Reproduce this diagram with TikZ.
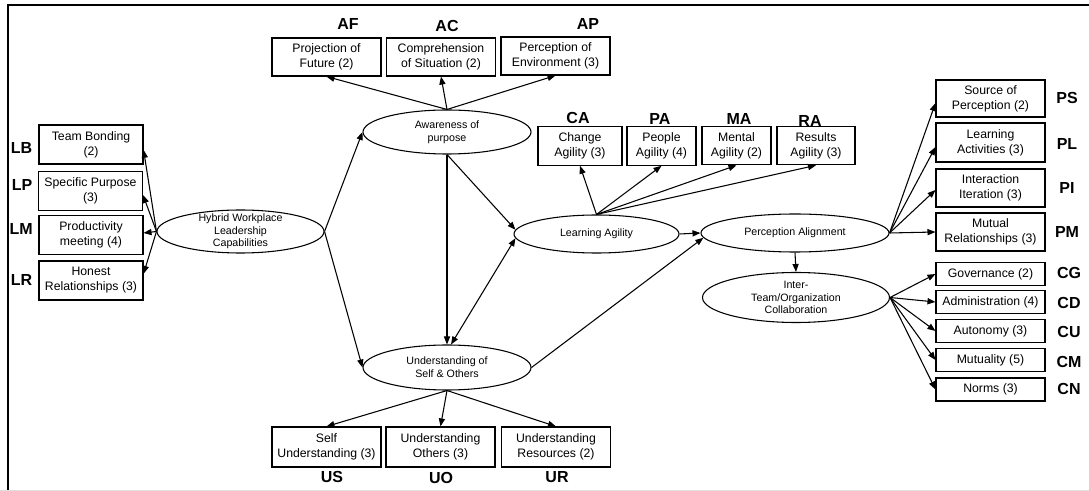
\documentclass[tikz,border=0pt]{standalone}
\usepackage{fontspec}
\setmainfont{Liberation Sans}
\usetikzlibrary{arrows.meta}
\usetikzlibrary{shapes}

\begin{document}
\begin{tikzpicture}[x=0.75pt,y=-0.75pt,
    >={Triangle[length=6pt,width=4.6pt]},
    box/.style={draw,rectangle,line width=0.8pt,align=center,inner sep=0pt,
      font=\fontsize{9.2}{11.2}\selectfont},
    lbox/.style={box,minimum width=78pt,minimum height=29.25pt},
    wbox/.style={box,minimum width=81.75pt,minimum height=28.5pt},
    abox/.style={box,minimum height=28.9pt},
    tbox/.style={box,minimum width=81.75pt,minimum height=17.25pt},
    ubox/.style={box,minimum width=81.75pt,minimum height=30pt},
    lat/.style={draw,ellipse,line width=0.8pt,inner sep=0pt},
    etext/.style={align=center,font=\fontsize{8}{9.5}\selectfont},
    code/.style={font=\bfseries\fontsize{12}{14}\selectfont},
    link/.style={->,line width=0.8pt}]
  \useasboundingbox (0,0) rectangle (1089,491);
  \draw[line width=2.2pt] (8,491) -- (8,5) -- (1089,5);
  \draw[black!12,line width=0.75pt] (0,490) -- (1089,490);

  % latent constructs
  \node[lat,minimum width=125.25pt,minimum height=32.25pt,
    label={[etext]center:{Hybrid Workplace\\Leadership\\Capabilities}}] (hyb) at (240.5,231.5) {};
  \node[lat,minimum width=126pt,minimum height=33pt,
    label={[etext]center:{Awareness of\\purpose}}] (aw) at (447,132) {};
  \node[lat,minimum width=123.75pt,minimum height=28.5pt,
    label={[etext]center:{Learning Agility}}] (la) at (596.5,234) {};
  \node[lat,minimum width=126pt,minimum height=33.75pt,
    label={[etext]center:{Understanding of\\Self \& Others}}] (us) at (447,367.5) {};
  \node[lat,minimum width=141pt,minimum height=28.5pt,
    label={[etext]center:{Perception Alignment}}] (pa) at (795,233) {};
  \node[lat,minimum width=140.25pt,minimum height=37.5pt,
    label={[etext]center:{Inter-\\Team/Organization\\Collaboration}}] (ic) at (796,297.5) {};

  % leadership indicators
  \node[lbox] (lb) at (91,144.5) {Team Bonding\\(2)};
  \node[lbox] (lp) at (90.5,191) {Specific Purpose\\(3)};
  \node[lbox] (lm) at (91,235) {Productivity\\meeting (4)};
  \node[lbox] (lr) at (91,280.5) {Honest\\Relationships (3)};
  \node[code,anchor=east] (lb-c) at (37,148) {LB};
  \node[code,anchor=east] (lp-c) at (37,185) {LP};
  \node[code,anchor=east] (lm-c) at (37.5,229) {LM};
  \node[code,anchor=east] (lr-c) at (37,280) {LR};

  % awareness indicators
  \node[wbox] (af) at (326.5,57) {Projection of\\Future (2)};
  \node[wbox] (ac) at (441,57) {Comprehension\\of Situation (2)};
  \node[wbox] (ap) at (555.5,56) {Perception of\\Environment (3)};
  \node[code] (af-c) at (348,24) {AF};
  \node[code] (ac-c) at (447,26) {AC};
  \node[code] (ap-c) at (588,24) {AP};

  % agility indicators
  \node[abox,minimum width=63pt] (ca) at (580,146) {Change\\Agility (3)};
  \node[abox,minimum width=51.75pt] (pe) at (661.5,146) {People\\Agility (4)};
  \node[abox,minimum width=51.75pt] (ma) at (736.5,145.5) {Mental\\Agility (2)};
  \node[abox,minimum width=58.5pt] (ra) at (816,145.5) {Results\\Agility (3)};
  \node[code] (ca-c) at (578,118) {CA};
  \node[code] (pe-c) at (660,119) {PA};
  \node[code] (ma-c) at (739,119) {MA};
  \node[code] (ra-c) at (810,121) {RA};

  % perception indicators
  \node[wbox,minimum height=27.75pt] (ps) at (990.5,98.5) {Source of\\Perception (2)};
  \node[wbox,minimum height=29.25pt] (pl) at (990.5,142.5) {Learning\\Activities (3)};
  \node[wbox] (pi) at (990.5,188) {Interaction\\Iteration (3)};
  \node[wbox] (pm) at (990.5,232) {Mutual\\Relationships (3)};
  \node[code] (ps-c) at (1067,98) {PS};
  \node[code] (pl-c) at (1067,144) {PL};
  \node[code] (pi-c) at (1067,188) {PI};
  \node[code] (pm-c) at (1067,232) {PM};

  % collaboration indicators
  \node[tbox] (cg) at (990.5,274) {Governance (2)};
  \node[tbox] (cd) at (990.5,302) {Administration (4)};
  \node[tbox] (cu) at (990.5,331) {Autonomy (3)};
  \node[tbox] (cm) at (990.5,360) {Mutuality (5)};
  \node[tbox] (cn) at (990.5,389.5) {Norms (3)};
  \node[code] (cg-c) at (1069,273) {CG};
  \node[code] (cd-c) at (1069,303) {CD};
  \node[code] (cu-c) at (1069,332) {CU};
  \node[code] (cm-c) at (1069,362) {CM};
  \node[code] (cn-c) at (1069,389) {CN};

  % understanding indicators
  \node[ubox] (su) at (326.5,447) {Self\\Understanding (3)};
  \node[ubox] (uo) at (440.5,447) {Understanding\\Others (3)};
  \node[ubox] (ur) at (556,447) {Understanding\\Resources (2)};
  \node[code] (su-c) at (332,477) {US};
  \node[code] (uo-c) at (441,478) {UO};
  \node[code] (ur-c) at (557,477) {UR};

  % structural paths
  \draw[link] (hyb.east) -- (aw.west);
  \draw[link] (hyb.east) -- (us.west);
  \draw[link] (aw.south) -- (us.north);
  \draw[link] (aw.south) -- (la.177);
  \draw[link,<->] (us.80) -- (la.183);
  \draw[link] (la.east) -- (pa.west);
  \draw[link] (us.east) -- (pa.183);
  \draw[link] (pa.south) -- (ic.north);

  % measurement paths
  \draw[link] (hyb.west) -- ([yshift=-4pt]lb.east);
  \draw[link] (hyb.west) -- ([yshift=-3pt]lp.east);
  \draw[link] (hyb.west) -- ([yshift=1.5pt]lm.east);
  \draw[link] (hyb.west) -- ([yshift=5pt]lr.east);
  \draw[link] (aw.north) -- (af.south);
  \draw[link] (aw.north) -- (ac.south);
  \draw[link] (aw.north) -- (ap.south);
  \draw[link] (la.north) -- (ca.south);
  \draw[link] (la.north) -- (pe.south);
  \draw[link] (la.north) -- (ma.south);
  \draw[link] (la.north) -- (ra.south);
  \draw[link] (pa.east) -- ([yshift=-3.4pt]ps.west);
  \draw[link] (pa.east) -- ([yshift=-3.4pt]pl.west);
  \draw[link] (pa.east) -- ([yshift=-1.5pt]pi.west);
  \draw[link] (pa.east) -- (pm.west);
  \draw[link] (ic.east) -- (cg.west);
  \draw[link] (ic.east) -- (cd.west);
  \draw[link] (ic.east) -- (cu.west);
  \draw[link] (ic.east) -- (cm.west);
  \draw[link] (ic.east) -- (cn.west);
  \draw[link] (us.south) -- (su.north);
  \draw[link] (us.south) -- (uo.north);
  \draw[link] (us.south) -- (ur.north);
\end{tikzpicture}
\end{document}
